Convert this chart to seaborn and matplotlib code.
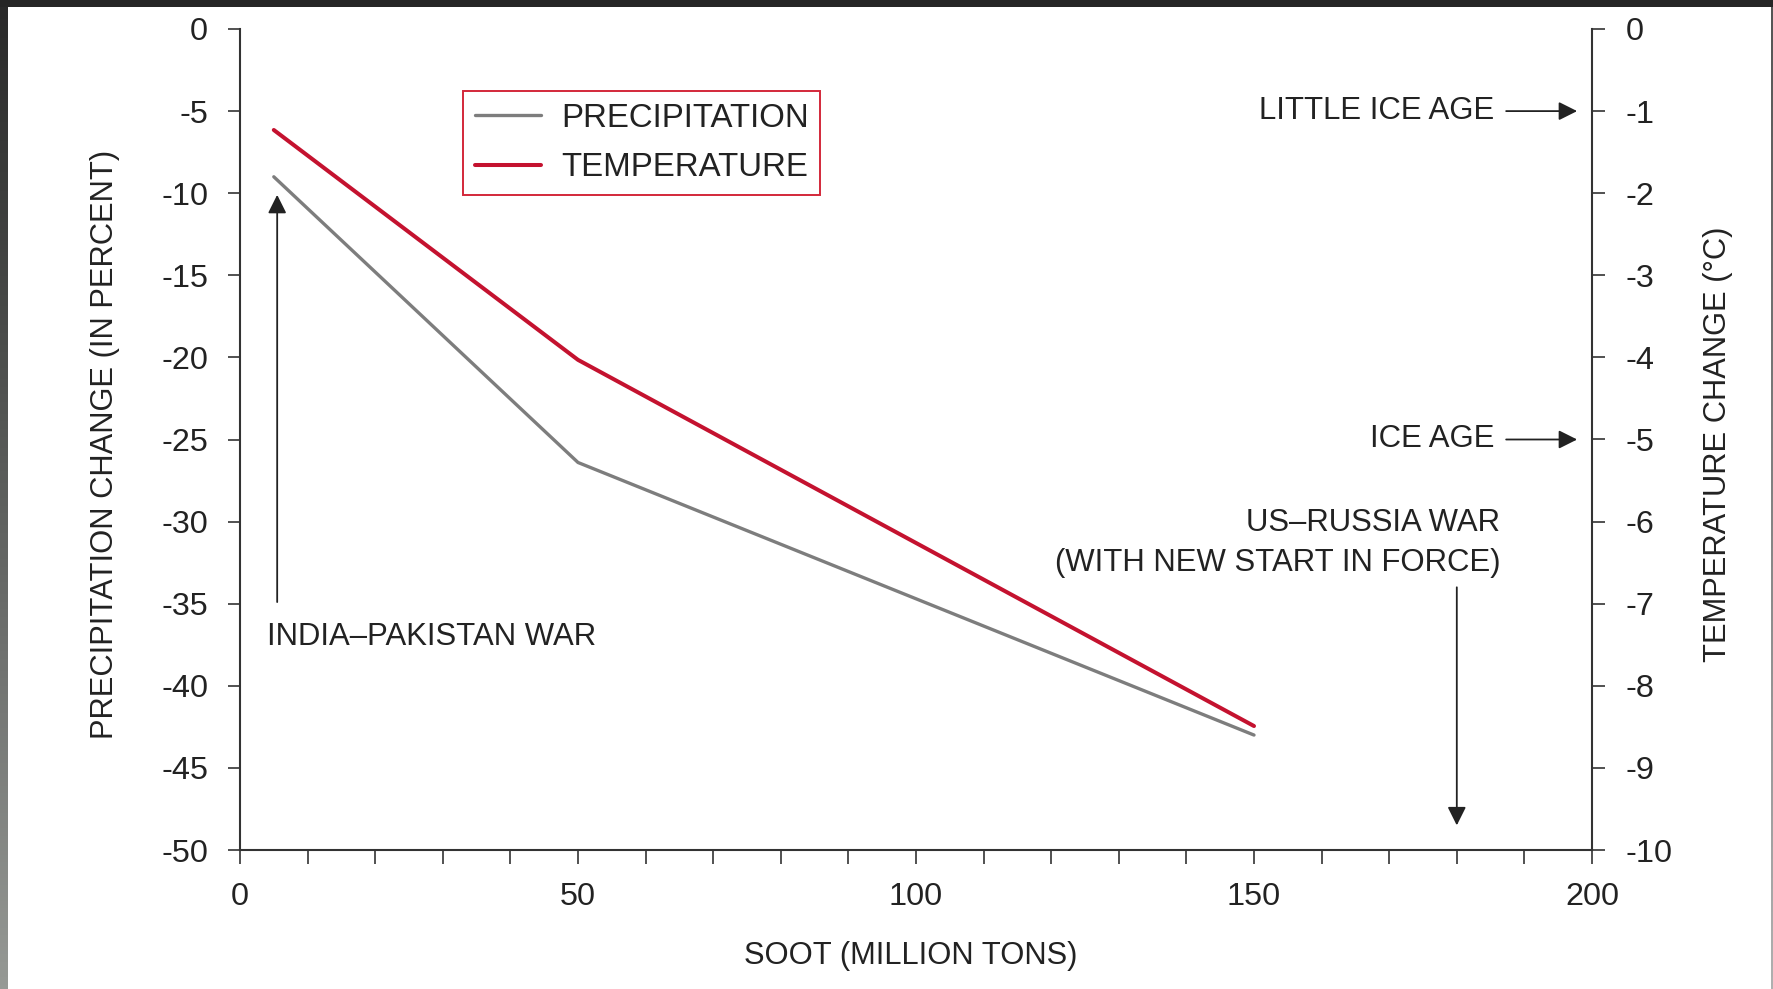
import numpy as np
import pandas as pd
import matplotlib
matplotlib.use("Agg")
import matplotlib.pyplot as plt
import seaborn as sns

# ---- data ----
soot = [5, 50, 150]                      # million tons
precip = [-9.0, -26.4, -43.0]            # percent
temp = [-1.23, -4.03, -8.49]             # deg C

x_major = [0, 50, 100, 150, 200]
x_minor = list(range(0, 201, 10))
y_left_ticks = list(range(0, -51, -5))
y_right_ticks = list(range(0, -11, -1))

series_names = ["PRECIPITATION", "TEMPERATURE"]

# ---- style ----
sns.set_theme(style="white")
plt.rcParams["font.family"] = ["Liberation Sans", "DejaVu Sans"]
plt.rcParams["axes.unicode_minus"] = False

INK = "#222222"
GRAY = "#7d7d7d"
RED = "#c4122f"
FS_TICK = 23.3
FS_LAB = 22.2
FS_ANN = 22.4
FS_LEG = 23.8

W, H = 1773, 989
fig = plt.figure(figsize=(W / 100, H / 100), dpi=100)
fig.patch.set_facecolor("white")

ax = fig.add_axes([240 / W, 1 - 850 / H, 1352 / W, 821 / H])
ax.set_facecolor("none")
ax2 = ax.twinx()

df = pd.DataFrame({"soot": soot, "precip": precip, "temp": temp})

sns.lineplot(data=df, x="soot", y="precip", ax=ax, color=GRAY, lw=2.4,
             label=series_names[0], legend=False)
sns.lineplot(data=df, x="soot", y="temp", ax=ax2, color=RED, lw=2.9,
             label=series_names[1], legend=False)

ax.set_xlim(0, 200)
ax.set_ylim(-50, 0)
ax2.set_ylim(-10, 0)

ax.set_xticks(x_major)
ax.set_xticks(x_minor, minor=True)
ax.set_yticks(y_left_ticks)
ax2.set_yticks(y_right_ticks)
ax.set_yticklabels([str(v) for v in y_left_ticks])
ax2.set_yticklabels([str(v) for v in y_right_ticks])

for a in (ax, ax2):
    for s in ("left", "right", "bottom", "top"):
        a.spines[s].set_visible(False)
ax.spines["left"].set_visible(True)
ax.spines["bottom"].set_visible(True)
ax2.spines["right"].set_visible(True)
for sp in (ax.spines["left"], ax.spines["bottom"], ax2.spines["right"]):
    sp.set_color("#333333")
    sp.set_linewidth(1.5)

ax.tick_params(axis="x", which="both", direction="out", length=10, width=1.2,
               color="#333333", labelsize=FS_TICK, labelcolor=INK, pad=13,
               bottom=True)
ax.tick_params(axis="y", which="both", direction="out", length=9, width=1.2,
               color="#333333", labelsize=FS_TICK, labelcolor=INK, pad=14,
               left=True)
ax2.tick_params(axis="y", which="both", direction="out", length=9, width=1.2,
                color="#333333", labelsize=FS_TICK, labelcolor=INK, pad=15,
                right=True)

ax.set_xlabel("SOOT (MILLION TONS)", fontsize=FS_LAB, color=INK, va="center")
ax.xaxis.set_label_coords(0.496, -0.1296)
ax.set_ylabel("PRECIPITATION CHANGE (IN PERCENT)", fontsize=FS_LAB,
              color=INK, va="center", ha="center")
ax.yaxis.set_label_coords(-0.0999, 0.494)
ax2.set_ylabel("TEMPERATURE CHANGE (°C)", fontsize=FS_LAB, color=INK,
               va="center", ha="center", rotation=90)
ax2.yaxis.set_label_coords(1.093, 0.494)

# ---- legend ----
h1, l1 = ax.get_legend_handles_labels()
h2, l2 = ax2.get_legend_handles_labels()
leg = ax2.legend(h1 + h2, l1 + l2, loc="upper left",
                 bbox_to_anchor=(463 / W, 1 - 91 / H),
                 bbox_transform=fig.transFigure, borderaxespad=0,
                 fontsize=FS_LEG, frameon=True, fancybox=False, framealpha=1,
                 edgecolor="#d3283a", handlelength=2.0, handletextpad=0.6,
                 borderpad=0.36, labelspacing=0.55)
leg.get_frame().set_linewidth(1.4)
for t in leg.get_texts():
    t.set_color(INK)

# ---- annotations ----
arrow_kw = dict(arrowstyle="-|>", color=INK, lw=1.3, mutation_scale=28,
                shrinkA=0, shrinkB=0)

ax2.text(185.6, -1, "LITTLE ICE AGE", fontsize=FS_ANN, color=INK,
         ha="right", va="center")
ax2.annotate("", xy=(197.8, -1), xytext=(187.3, -1), arrowprops=arrow_kw)

ax2.text(185.6, -5, "ICE AGE", fontsize=FS_ANN, color=INK,
         ha="right", va="center")
ax2.annotate("", xy=(197.8, -5), xytext=(187.3, -5), arrowprops=arrow_kw)

ax.text(186.4, -31.3, "US–RUSSIA WAR\n(WITH NEW START IN FORCE)",
        fontsize=FS_ANN, color=INK, ha="right", va="center",
        multialignment="right", linespacing=1.4)
ax.annotate("", xy=(180, -48.5), xytext=(180, -34.0), arrowprops=arrow_kw)

ax.text(4.0, -37.0, "INDIA–PAKISTAN WAR", fontsize=FS_ANN, color=INK,
        ha="left", va="center")
ax.annotate("", xy=(5.5, -10.1), xytext=(5.5, -34.9), arrowprops=arrow_kw)

# ---- screenshot frame (dark top strip, shaded left strip) ----
fig.patches.append(matplotlib.patches.Rectangle(
    (0, 1 - 7 / H), 1, 7 / H, transform=fig.transFigure,
    facecolor="#262626", edgecolor="none", zorder=10))
gax = fig.add_axes([0, 0, 8 / W, 1 - 7 / H])
grad = np.linspace(0, 1, 256).reshape(-1, 1)
cmap = matplotlib.colors.LinearSegmentedColormap.from_list(
    "edge", ["#2a2a2a", "#4a4c4a", "#707270", "#969995"])
gax.imshow(grad, aspect="auto", cmap=cmap)
gax.set_axis_off()
rax = fig.add_axes([1 - 2 / W, 0, 2 / W, 1 - 7 / H])
cmap_r = matplotlib.colors.LinearSegmentedColormap.from_list(
    "edge_r", ["#555555", "#b0b0b0"])
rax.imshow(grad, aspect="auto", cmap=cmap_r)
rax.set_axis_off()

fig.savefig("out.png", dpi=100, facecolor="white")
